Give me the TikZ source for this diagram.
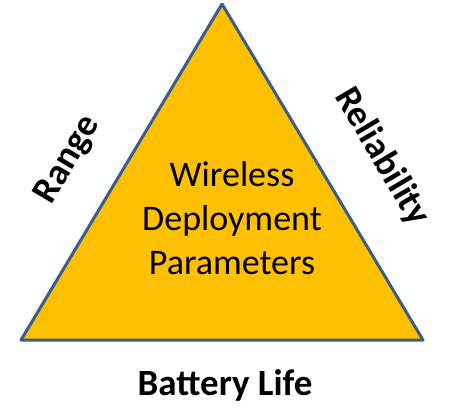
\documentclass[tikz,border=0pt]{standalone}
\usepackage{fontspec}
\setmainfont{Carlito}
\definecolor{tri}{HTML}{FFC000}
\definecolor{edge}{HTML}{3B5D8C}
\begin{document}
\begin{tikzpicture}[x=1pt,y=-1pt,
  lbl/.style={font=\fontsize{37}{42}\selectfont\bfseries, inner sep=0pt},
  ctr/.style={font=\fontsize{36}{44}\selectfont, align=center, inner sep=0pt}]
\useasboundingbox (0,0) rectangle (468,415);
\coordinate (apex) at (222,4);
\coordinate (bl) at (21,340);
\coordinate (br) at (423,340);
\draw[edge, line width=3pt, fill=tri, line join=round] (apex) -- (br) -- (bl) -- cycle;
\node[ctr] (center) at (232,218) {Wireless\\Deployment\\Parameters};
\node[lbl, rotate=59.3] (range) at (68,160) {Range};
\node[lbl, rotate=-59.3] (rel) at (382,157) {Reliability};
\node[lbl] (bat) at (225,385) {Battery Life};
\end{tikzpicture}
\end{document}
